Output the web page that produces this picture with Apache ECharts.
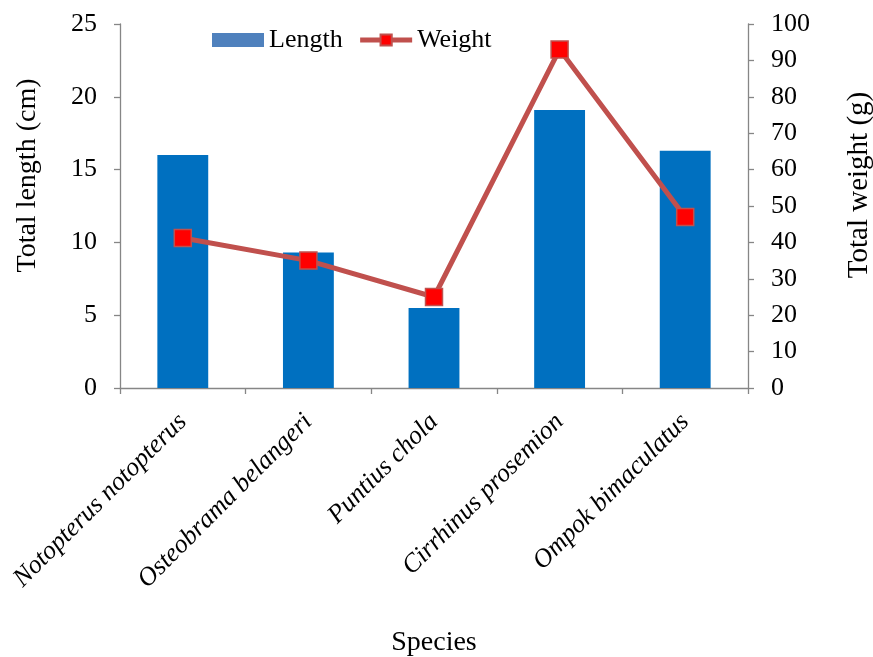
<!DOCTYPE html>
<html>
<head>
<meta charset="utf-8">
<script src="https://cdn.jsdelivr.net/npm/echarts@6/dist/echarts.min.js"></script>
<style>html,body{margin:0;padding:0;background:#fff}#c{width:873px;height:657px}</style>
</head>
<body>
<div id="c"></div>
<script>
const categories = ['Notopterus notopterus', 'Osteobrama belangeri', 'Puntius chola', 'Cirrhinus prosemion', 'Ompok bimaculatus'];
const lengthValues = [16.0, 9.3, 5.5, 19.1, 16.3];
const weightValues = [41.2, 35.0, 25.0, 93.0, 47.0];

const FONT = "'Liberation Serif', 'Times New Roman', serif";
const AX = '#868686';
const chart = echarts.init(document.getElementById('c'), null, {renderer: 'canvas'});
chart.setOption({
  animation: false,
  backgroundColor: '#fff',
  textStyle: {fontFamily: FONT, color: '#000'},
  legend: {
    left: 207, top: 22, itemGap: 15, itemWidth: 52, itemHeight: 14,
    textStyle: {fontFamily: FONT, fontSize: 26, color: '#000'},
    data: [
      {name: 'Length', icon: 'rect', itemStyle: {color: '#4F81BD'}},
      {name: 'Weight', lineStyle: {width: 5, color: '#C0504D'}}
    ]
  },
  grid: {left: 120, right: 125, top: 24, bottom: 269, containLabel: false, outerBoundsMode: 'none'},
  xAxis: {
    type: 'category', data: categories,
    name: 'Species', nameLocation: 'middle', nameGap: 241,
    nameTextStyle: {fontFamily: FONT, fontSize: 28, color: '#000'},
    axisLine: {lineStyle: {color: AX, width: 1.3}},
    axisTick: {show: true, length: 6, lineStyle: {color: AX, width: 1.3}},
    axisLabel: {rotate: 45, margin: 30, fontFamily: FONT, fontSize: 26, fontStyle: 'italic', color: '#000', interval: 0}
  },
  yAxis: [
    {
      type: 'value', min: 0, max: 25, interval: 5,
      name: 'Total length (cm)', nameLocation: 'middle', nameGap: 78, nameRotate: 90,
      nameTextStyle: {fontFamily: FONT, fontSize: 28, color: '#000', padding: [0, 0, 0, 61]},
      axisLine: {show: true, lineStyle: {color: AX, width: 1.3}},
      axisTick: {show: true, length: 6, lineStyle: {color: AX, width: 1.3}},
      splitLine: {show: false},
      axisLabel: {margin: 23, fontFamily: FONT, fontSize: 26, color: '#000'}
    },
    {
      type: 'value', min: 0, max: 100, interval: 10, position: 'right',
      name: 'Total weight (g)', nameLocation: 'middle', nameGap: 97, nameRotate: 90,
      nameTextStyle: {fontFamily: FONT, fontSize: 29, color: '#000', padding: [0, 0, 0, 42]},
      axisLine: {show: true, lineStyle: {color: AX, width: 1.3}},
      axisTick: {show: true, length: 6, lineStyle: {color: AX, width: 1.3}},
      splitLine: {show: false},
      axisLabel: {margin: 23, fontFamily: FONT, fontSize: 26, color: '#000'}
    }
  ],
  series: [
    {
      name: 'Length', type: 'bar', yAxisIndex: 0, data: lengthValues,
      barWidth: '40.5%', itemStyle: {color: '#0070C0'}
    },
    {
      name: 'Weight', type: 'line', yAxisIndex: 1, data: weightValues,
      symbol: 'rect', symbolSize: 17,
      lineStyle: {color: '#C0504D', width: 5},
      itemStyle: {color: '#FF0000', borderColor: '#C0504D', borderWidth: 1.5}
    }
  ]
});
</script>
</body>
</html>
